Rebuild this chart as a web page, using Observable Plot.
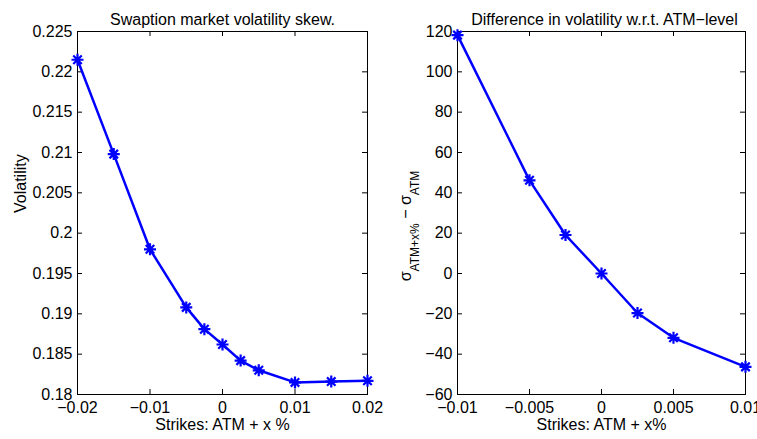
<!DOCTYPE html>
<html><head><meta charset="utf-8">
<script src="https://cdn.jsdelivr.net/npm/d3@7"></script>
<script src="https://cdn.jsdelivr.net/npm/@observablehq/plot@0.6"></script>
<style>
body{margin:0;background:#fff;}
#wrap{position:relative;width:757px;height:439px;overflow:hidden;font-family:"Liberation Sans",Arial,sans-serif;}
#wrap svg{position:absolute;top:0;overflow:visible;}
</style></head><body><div id="wrap"></div>
<script>
const strikes = [-0.02,-0.015,-0.01,-0.005,-0.0025,0,0.0025,0.005,0.01,0.015,0.02];
const vols = [0.2215,0.2098,0.1980,0.1908,0.1881,0.1862,0.1842,0.1830,0.1815,0.1816,0.1817];
const diffStrikes = [-0.01,-0.005,-0.0025,0,0.0025,0.005,0.01];
const diffBps = [118.2,46.2,19.1,0,-19.6,-31.9,-46.3];
const leftXTicks = [-0.02,-0.01,0,0.01,0.02];
const leftYTicks = [0.18,0.185,0.19,0.195,0.2,0.205,0.21,0.215,0.22,0.225];
const rightXTicks = [-0.01,-0.005,0,0.005,0.01];
const rightYTicks = [-60,-40,-20,0,20,40,60,80,100,120];
const leftTitle = "Swaption market volatility skew.";
const rightTitle = "Difference in volatility w.r.t. ATM\u2212level";
const leftXLabel = "Strikes: ATM + x %";
const rightXLabel = "Strikes: ATM + x%";
const leftYLabel = "Volatility";

const asterisk = {draw(ctx, size){
  const r = Math.sqrt(size/Math.PI), d = r*Math.SQRT1_2;
  ctx.moveTo(-r,0); ctx.lineTo(r,0);
  ctx.moveTo(0,-r); ctx.lineTo(0,r);
  ctx.moveTo(-d,-d); ctx.lineTo(d,d);
  ctx.moveTo(-d,d); ctx.lineTo(d,-d);
}};
const fmt = d => d === 0 ? "0" : String(d).replace("-", "\u2212");
const FONT = "Liberation Sans, Arial, sans-serif";
const FS = 16;

function panel({xs, ys, xDomain, yDomain, xTicks, yTicks, width, mL, mR, title, titleDx, xLabel, yLabel}) {
  const H = 439, mT = 31, mB = 45;
  const iH = H - mT - mB, iW = width - mL - mR, tl = 5;
  const data = xs.map((x, i) => ({x, y: ys[i]}));
  const marks = [
    Plot.tickX(xTicks, {x: d => d, insetTop: iH - tl, stroke: "#000"}),
    Plot.tickX(xTicks, {x: d => d, insetBottom: iH - tl, stroke: "#000"}),
    Plot.tickY(yTicks, {y: d => d, insetRight: iW - tl, stroke: "#000"}),
    Plot.tickY(yTicks, {y: d => d, insetLeft: iW - tl, stroke: "#000"}),
    Plot.frame({stroke: "#000"}),
    Plot.axisX(xTicks, {tickSize: 0, tickPadding: 7, tickFormat: fmt, label: null, fontSize: FS, fill: "#000"}),
    Plot.axisY(yTicks, {tickSize: 0, tickPadding: 5, tickFormat: fmt, label: null, fontSize: FS, fill: "#000"}),
    Plot.line(data, {x: "x", y: "y", stroke: "#0000ff", strokeWidth: 2.5}),
    Plot.dot(data, {x: "x", y: "y", symbol: asterisk, r: 6, stroke: "#0000ff", strokeWidth: 2.2, fill: "none"}),
    Plot.text([title], {text: d => d, frameAnchor: "top", dy: -18, dx: titleDx, fontSize: FS, fill: "#000"}),
    Plot.text([xLabel], {text: d => d, frameAnchor: "bottom", dy: 35, fontSize: FS, fill: "#000"})
  ];
  if (yLabel) marks.push(Plot.text([yLabel], {text: d => d, frameAnchor: "left", rotate: -90, dx: -57, fontSize: FS, fill: "#000"}));
  return Plot.plot({
    width, height: H, marginLeft: mL, marginRight: mR, marginTop: mT, marginBottom: mB,
    style: {background: "transparent", overflow: "visible", fontFamily: FONT, fontSize: FS + "px", color: "#000"},
    x: {domain: xDomain}, y: {domain: yDomain},
    marks
  });
}

const wrap = document.getElementById("wrap");
const left = panel({xs: strikes, ys: vols, xDomain: [-0.02, 0.02], yDomain: [0.18, 0.225],
  xTicks: leftXTicks, yTicks: leftYTicks, width: 378, mL: 77, mR: 11,
  title: leftTitle, titleDx: 0, xLabel: leftXLabel, yLabel: leftYLabel});
left.style.left = "0px";
const right = panel({xs: diffStrikes, ys: diffBps, xDomain: [-0.01, 0.01], yDomain: [-60, 120],
  xTicks: rightXTicks, yTicks: rightYTicks, width: 379, mL: 79, mR: 12,
  title: rightTitle, titleDx: 3, xLabel: rightXLabel, yLabel: null});
right.style.left = "378px";
wrap.appendChild(left);
wrap.appendChild(right);

// y label with subscripts: sigma_{ATM+x%} - sigma_{ATM}
const lab = d3.select(right).append("text")
  .attr("transform", "translate(33,226) rotate(-90)")
  .attr("text-anchor", "middle")
  .attr("font-family", FONT).attr("font-size", FS).attr("fill", "#000");
lab.append("tspan").text("\u03c3");
lab.append("tspan").attr("dy", 8).attr("font-size", 12).text("ATM+x%");
lab.append("tspan").attr("dy", -8).text(" \u2212 \u03c3");
lab.append("tspan").attr("dy", 8).attr("font-size", 12).text("ATM");
</script></body></html>
